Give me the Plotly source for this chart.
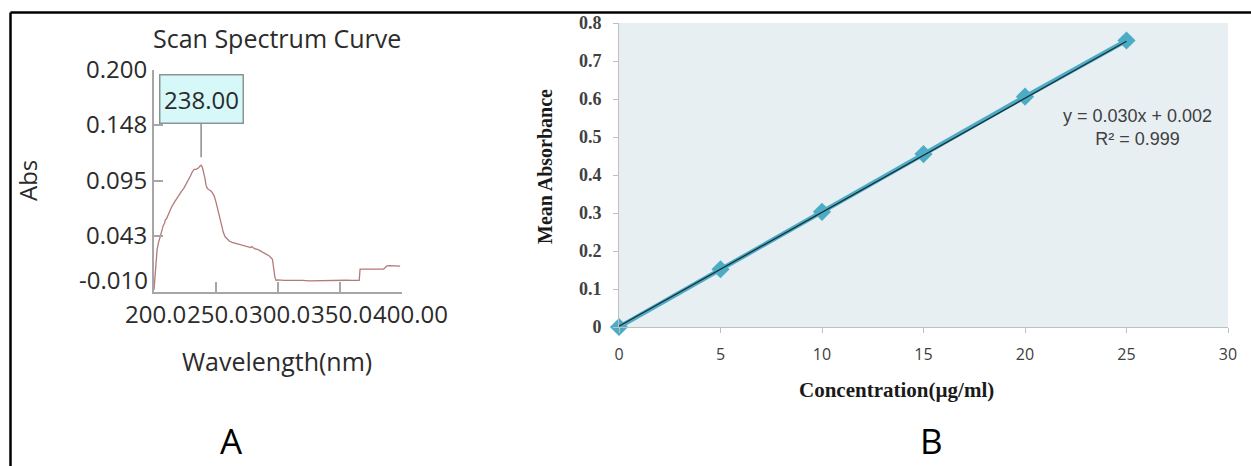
import plotly.graph_objects as go

# ---- Panel A: UV scan spectrum ----
wavelength_nm = [
    200.0, 200.8, 201.6, 202.5, 203.5, 204.5, 205.5, 206.5, 207.5, 208.5, 209.0,
    210.0, 212.0, 214.0, 216.0, 218.0, 220.0, 222.0, 224.0, 226.0, 228.0, 229.5,
    231.0, 232.5, 234.0, 235.5, 237.0, 238.0, 239.0, 240.0, 241.0, 242.0, 243.0,
    244.0, 245.5, 247.0, 248.5, 250.0, 251.5, 253.0, 254.5, 256.0, 257.5, 259.0,
    261.0, 263.0, 266.0, 269.0, 272.0, 275.0, 278.0, 279.0, 281.0, 284.0, 287.0,
    290.0, 293.0, 295.5, 296.5, 297.5, 298.5, 300.0, 305.0, 310.0, 315.0, 320.0,
    325.0, 330.0, 335.0, 340.0, 345.0, 350.0, 355.0, 360.0, 365.5, 366.2, 370.0,
    375.0, 380.0, 385.0, 386.0, 387.5, 390.0, 393.0, 396.0, 398.5,
]
absorbance = [
    -0.008, 0.005, 0.020, 0.030, 0.036, 0.041, 0.046, 0.050, 0.053, 0.055, 0.058,
    0.059, 0.065, 0.070, 0.074, 0.078, 0.081, 0.085, 0.088, 0.092, 0.096, 0.100,
    0.104, 0.106, 0.106, 0.107, 0.109, 0.110, 0.108, 0.104, 0.098, 0.091, 0.088,
    0.087, 0.086, 0.084, 0.081, 0.075, 0.067, 0.059, 0.052, 0.046, 0.042, 0.040,
    0.038, 0.037, 0.036, 0.035, 0.034, 0.033, 0.032, 0.033, 0.031, 0.030, 0.028,
    0.026, 0.024, 0.021, 0.012, 0.004, 0.001, 0.0015, 0.0010, 0.0012, 0.0008, 0.0010,
    0.0005, 0.0007, 0.0010, 0.0012, 0.0009, 0.0010, 0.0011, 0.0010, 0.0010, 0.0117, 0.0117,
    0.0115, 0.0118, 0.0117, 0.0125, 0.0145, 0.0149, 0.0148, 0.0146, 0.0144,
]
peak_wavelength = 238.00
peak_absorbance = 0.110
abs_ticks = [0.200, 0.148, 0.095, 0.043, -0.010]
abs_tick_labels = ["0.200", "0.148", "0.095", "0.043", "-0.010"]
wl_ticks = [200, 250, 300, 350, 400]
wl_tick_labels = ["200.0", "250.0", "300.0", "350.0", "400.00"]

# ---- Panel B: calibration curve ----
concentration = [0, 5, 10, 15, 20, 25]
mean_absorbance = [0.000, 0.152, 0.303, 0.455, 0.606, 0.754]
slope = 0.030
intercept = 0.002
r_squared = 0.999

W, H = 1251, 466
def px_x(p):
    return p / W
def px_y(p):
    return 1 - p / H

fig = go.Figure()

fig.add_trace(go.Scatter(
    x=wavelength_nm, y=absorbance, mode="lines",
    line=dict(color="#b27a7a", width=1.3),
    xaxis="x", yaxis="y", showlegend=False, hoverinfo="skip",
))

fig.add_trace(go.Scatter(
    x=concentration, y=mean_absorbance, mode="lines+markers",
    line=dict(color="#4bacc6", width=4.5),
    marker=dict(symbol="diamond", size=14, color="#4bacc6"),
    xaxis="x2", yaxis="y2", showlegend=False, cliponaxis=False,
))

trend_x = [concentration[0], concentration[-1]]
trend_y = [slope * c + intercept for c in trend_x]
fig.add_trace(go.Scatter(
    x=trend_x, y=trend_y, mode="lines",
    line=dict(color="#1e2f36", width=1.3),
    xaxis="x2", yaxis="y2", showlegend=False, cliponaxis=False,
))

axis_gray = "#a6a6a6"
font_a = "Open Sans"
font_serif = "Liberation Serif"
text_dark = "#2b2b2b"

# the lowest Abs label sits a little above its tick, so it is placed separately
y_labels_on_axis = abs_tick_labels[:-1] + [""]

fig.update_layout(
    width=W, height=H,
    margin=dict(l=0, r=0, t=0, b=0, autoexpand=False),
    paper_bgcolor="white", plot_bgcolor="rgba(0,0,0,0)",
    xaxis=dict(
        domain=[px_x(154), px_x(402)], range=[200, 400],
        tickmode="array", tickvals=wl_ticks, ticktext=wl_tick_labels,
        ticks="inside", ticklen=10, tickwidth=2, tickcolor=axis_gray,
        showline=True, linecolor=axis_gray, linewidth=2,
        showgrid=False, zeroline=False, automargin=False, tickangle=0,
        ticklabelposition="outside right", ticklabelshift=-31,
        tickfont=dict(family=font_a, size=24, color=text_dark),
        anchor="y",
    ),
    yaxis=dict(
        domain=[px_y(292), px_y(70)], range=[-0.010, 0.200],
        tickmode="array", tickvals=abs_ticks, ticktext=y_labels_on_axis,
        ticks="inside", ticklen=9, tickwidth=2, tickcolor=axis_gray,
        showline=True, linecolor=axis_gray, linewidth=2,
        showgrid=False, zeroline=False, automargin=False,
        tickfont=dict(family=font_a, size=24, color=text_dark),
        anchor="x",
    ),
    xaxis2=dict(
        domain=[px_x(619), px_x(1228)], range=[0, 30],
        tickmode="linear", tick0=0, dtick=5,
        ticks="outside", ticklen=5, tickcolor="#bfbfbf",
        showline=True, linecolor="#bfbfbf", linewidth=1,
        showgrid=False, zeroline=False, automargin=False, tickangle=0,
        tickfont=dict(family=font_a, size=16, color="#404040"),
        ticklabelstandoff=8,
        anchor="y2",
    ),
    yaxis2=dict(
        domain=[px_y(327), px_y(23)], range=[0, 0.8],
        tickmode="linear", tick0=0, dtick=0.1,
        ticks="outside", ticklen=5, tickcolor="#bfbfbf",
        showline=True, linecolor="#bfbfbf", linewidth=1,
        showgrid=False, zeroline=False, automargin=False,
        tickfont=dict(family=font_serif, size=18, color="#404040", weight="bold"),
        ticklabelstandoff=8,
        anchor="x2",
    ),
)

# light plotting area of panel B
fig.add_shape(type="rect", xref="x2 domain", yref="y2 domain",
              x0=0, x1=1, y0=0, y1=1, fillcolor="#e8eff3",
              line=dict(width=0), layer="below")

# outer frame: top and left rules
fig.add_shape(type="line", xref="paper", yref="paper",
              x0=px_x(10.5), x1=1, y0=px_y(12.5), y1=px_y(12.5),
              line=dict(color="black", width=2.5))
fig.add_shape(type="line", xref="paper", yref="paper",
              x0=px_x(10.5), x1=px_x(10.5), y0=0, y1=px_y(12.5),
              line=dict(color="black", width=2.5))

annotations = [
    dict(text="Scan Spectrum Curve", x=px_x(277), y=px_y(38),
         font=dict(family=font_a, size=25, color=text_dark)),
    dict(text="Abs", x=px_x(28), y=px_y(181), textangle=-90,
         font=dict(family=font_a, size=24, color=text_dark)),
    dict(text="Wavelength(nm)", x=px_x(277), y=px_y(361),
         font=dict(family=font_a, size=25, color=text_dark)),
    dict(text="A", x=px_x(231), y=px_y(440),
         font=dict(family=font_a, size=35, color="black")),
    dict(text="B", x=px_x(931), y=px_y(440),
         font=dict(family=font_a, size=35, color="black")),
    dict(text="Mean Absorbance", x=px_x(545), y=px_y(167), textangle=-90,
         font=dict(family=font_serif, size=20, color="#1a1a1a", weight="bold")),
    dict(text="Concentration(µg/ml)", x=px_x(896), y=px_y(390),
         font=dict(family=font_serif, size=21, color="#1a1a1a", weight="bold")),
    dict(text=f"y = {slope:.3f}x + {intercept:.3f}<br>R² = {r_squared:.3f}",
         x=px_x(1137), y=px_y(127),
         font=dict(family="Liberation Sans", size=18, color="#404040")),
]
for a in annotations:
    fig.add_annotation(xref="paper", yref="paper", showarrow=False,
                       xanchor="center", yanchor="middle", **a)

# lowest Abs tick label
fig.add_annotation(xref="paper", yref="paper", showarrow=False,
                   x=px_x(150), y=px_y(279), xanchor="right", yanchor="middle",
                   text=abs_tick_labels[-1],
                   font=dict(family=font_a, size=24, color=text_dark))

# peak marker callout
fig.add_annotation(
    x=peak_wavelength, y=peak_absorbance, xref="x", yref="y",
    text=f"{peak_wavelength:.2f}", showarrow=True, arrowhead=0,
    arrowcolor="#8c8c8c", arrowwidth=1.5, standoff=8,
    ax=0, ay=-66, width=80, height=45,
    bgcolor="#d6f8f9", bordercolor="#8a9696", borderwidth=1.5,
    font=dict(family=font_a, size=24, color=text_dark),
)

fig.write_html("out.html")
